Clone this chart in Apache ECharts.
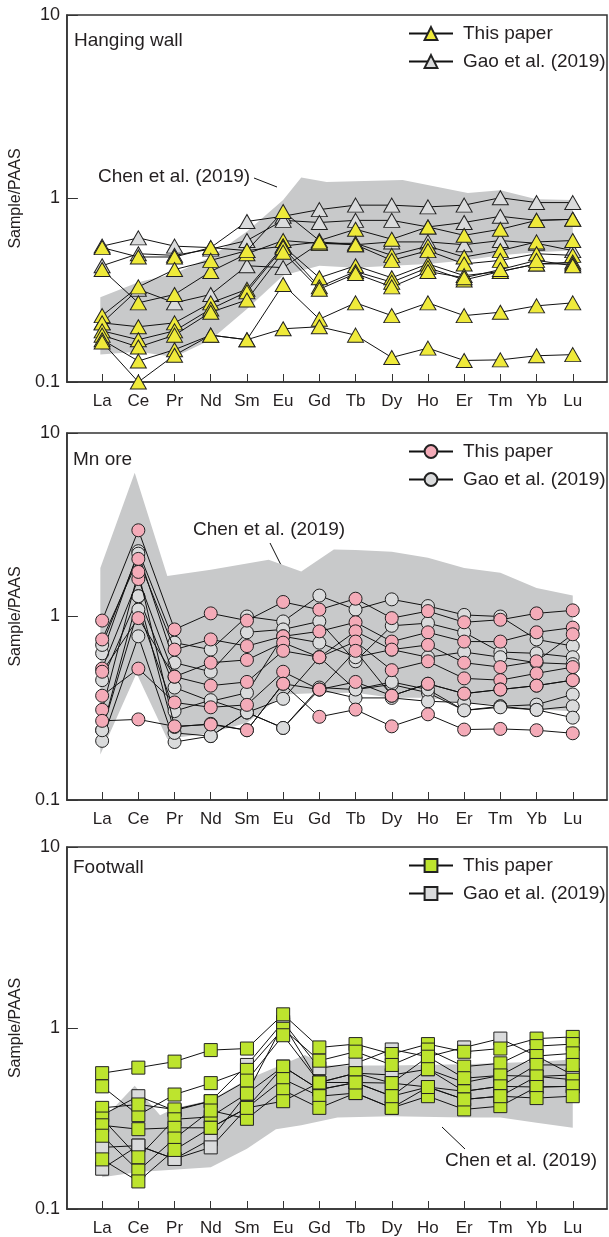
<!DOCTYPE html>
<html>
<head>
<meta charset="utf-8">
<script src="https://cdn.jsdelivr.net/npm/echarts@6.0.0/dist/echarts.min.js"></script>
<style>
  html, body { margin: 0; padding: 0; background: #fff; }
  #chart { width: 609px; height: 1237px; }
</style>
</head>
<body>
<div id="chart"></div>
<script>
// REE categories (x axis)
const ree = ['La', 'Ce', 'Pr', 'Nd', 'Sm', 'Eu', 'Gd', 'Tb', 'Dy', 'Ho', 'Er', 'Tm', 'Yb', 'Lu']

// Hanging wall - Sample/PAAS
const hwThisPaper = [
  [0.54, 0.48, 0.48, 0.54, 0.52, 0.85, 0.59, 0.68, 0.60, 0.70, 0.63, 0.68, 0.76, 0.77],
  [0.41, 0.27, 0.30, 0.40, 0.50, 0.59, 0.57, 0.57, 0.49, 0.55, 0.48, 0.52, 0.58, 0.59],
  [0.23, 0.33, 0.41, 0.46, 0.52, 0.55, 0.58, 0.56, 0.46, 0.52, 0.44, 0.46, 0.50, 0.49],
  [0.21, 0.20, 0.21, 0.27, 0.32, 0.55, 0.37, 0.43, 0.37, 0.44, 0.38, 0.40, 0.44, 0.45],
  [0.19, 0.17, 0.19, 0.25, 0.31, 0.54, 0.33, 0.40, 0.35, 0.42, 0.36, 0.40, 0.44, 0.44],
  [0.18, 0.155, 0.18, 0.24, 0.28, 0.51, 0.32, 0.39, 0.33, 0.40, 0.37, 0.41, 0.46, 0.43],
  [0.17, 0.13, 0.15, 0.18, 0.17, 0.34, 0.22, 0.27, 0.23, 0.27, 0.23, 0.24, 0.26, 0.27],
  [0.165, 0.10, 0.14, 0.18, 0.17, 0.195, 0.20, 0.18, 0.136, 0.153, 0.131, 0.132, 0.139, 0.141]
]
const hwGao = [
  [0.55, 0.61, 0.55, 0.54, 0.75, 0.80, 0.87, 0.92, 0.92, 0.90, 0.92, 1.01, 0.95, 0.95],
  [0.43, 0.50, 0.49, 0.53, 0.59, 0.76, 0.74, 0.76, 0.76, 0.70, 0.74, 0.80, 0.76, 0.77],
  [0.21, 0.32, 0.27, 0.30, 0.43, 0.42, 0.57, 0.56, 0.58, 0.58, 0.56, 0.59, 0.57, 0.52]
]
// Chen et al. (2019) range: [x position, value]
const hwChenUpper = [[-0.05, 0.29], [1, 0.35], [2, 0.39], [3, 0.48], [4, 0.66], [5, 0.98], [5.5, 1.30], [6.2, 1.23], [8.3, 1.26], [10.1, 1.07], [11, 1.11], [12, 0.99], [13, 0.98]]
const hwChenLower = [[13, 0.52], [12, 0.51], [11, 0.49], [10, 0.46], [9, 0.44], [8, 0.43], [7, 0.42], [6, 0.43], [5, 0.38], [4, 0.25], [3, 0.17], [2, 0.137], [1, 0.146], [-0.05, 0.141]]

// Mn ore
const mnThisPaper = [
  [0.95, 2.95, 0.85, 1.04, 0.95, 1.20, 1.09, 1.25, 0.98, 1.07, 0.93, 0.96, 1.04, 1.08],
  [0.75, 2.06, 0.66, 0.75, 0.69, 0.78, 0.83, 0.93, 0.73, 0.82, 0.73, 0.73, 0.82, 0.87],
  [0.52, 1.60, 0.47, 0.56, 0.58, 0.72, 0.60, 0.83, 0.66, 0.70, 0.56, 0.53, 0.57, 0.80],
  [0.50, 0.98, 0.47, 0.42, 0.44, 0.65, 0.60, 0.73, 0.51, 0.57, 0.46, 0.45, 0.49, 0.53],
  [0.37, 0.52, 0.34, 0.32, 0.33, 0.50, 0.40, 0.65, 0.37, 0.43, 0.38, 0.40, 0.42, 0.45],
  [0.31, 1.75, 0.25, 0.26, 0.24, 0.43, 0.40, 0.44, 0.37, 0.43, 0.38, 0.40, 0.42, 0.45],
  [0.27, 0.275, 0.252, 0.258, 0.24, 0.43, 0.284, 0.311, 0.252, 0.293, 0.242, 0.244, 0.24, 0.231]
]
const mnGao = [
  [0.63, 2.27, 0.72, 0.66, 1.00, 0.94, 1.30, 1.09, 1.24, 1.14, 1.02, 1.00, 0.75, 0.69],
  [0.70, 2.20, 0.56, 0.50, 0.82, 0.85, 0.94, 0.57, 0.89, 0.92, 0.82, 0.64, 0.63, 0.60],
  [0.45, 1.29, 0.41, 0.345, 0.384, 0.78, 0.72, 0.60, 0.66, 0.60, 0.64, 0.60, 0.56, 0.55],
  [0.24, 1.09, 0.305, 0.35, 0.30, 0.356, 0.60, 0.40, 0.426, 0.384, 0.308, 0.324, 0.331, 0.376],
  [0.21, 0.78, 0.207, 0.223, 0.30, 0.247, 0.40, 0.36, 0.36, 0.345, 0.34, 0.324, 0.31, 0.324],
  [0.24, 1.29, 0.232, 0.223, 0.30, 0.247, 0.41, 0.40, 0.44, 0.40, 0.308, 0.32, 0.31, 0.281]
]
const mnChenUpper = [[-0.05, 1.84], [0.9, 6.07], [1.8, 1.66], [3, 1.80], [4.6, 2.04], [5.5, 1.76], [6.4, 2.32], [7, 2.30], [8, 2.25], [9, 2.09], [10, 1.84], [11, 1.73], [12, 1.43], [13, 1.30]]
const mnChenLower = [[13, 0.305], [12, 0.311], [11, 0.33], [10, 0.339], [9, 0.361], [8, 0.361], [7, 0.384], [6, 0.383], [5, 0.376], [4, 0.264], [3, 0.232], [1.8, 0.215], [0.95, 0.49], [-0.05, 0.177]]

// Footwall
const fwThisPaper = [
  [0.563, 0.604, 0.652, 0.755, 0.77, 1.19, 0.781, 0.815, 0.718, 0.815, 0.739, 0.77, 0.874, 0.893],
  [0.476, 0.33, 0.429, 0.496, 0.587, 0.99, 0.66, 0.74, 0.625, 0.76, 0.612, 0.638, 0.794, 0.815],
  [0.362, 0.378, 0.355, 0.394, 0.512, 0.912, 0.50, 0.563, 0.496, 0.694, 0.528, 0.547, 0.70, 0.724],
  [0.316, 0.193, 0.313, 0.323, 0.434, 0.612, 0.457, 0.50, 0.42, 0.592, 0.447, 0.476, 0.625, 0.625],
  [0.29, 0.276, 0.281, 0.281, 0.362, 0.522, 0.42, 0.437, 0.362, 0.472, 0.403, 0.42, 0.54, 0.518],
  [0.254, 0.163, 0.245, 0.35, 0.315, 0.453, 0.362, 0.437, 0.362, 0.42, 0.355, 0.37, 0.472, 0.476],
  [0.188, 0.142, 0.212, 0.281, 0.362, 0.394, 0.50, 0.50, 0.42, 0.472, 0.403, 0.42, 0.41, 0.42]
]
const fwGao = [
  [0.33, 0.42, 0.35, 0.394, 0.625, 1.08, 0.60, 0.638, 0.761, 0.694, 0.781, 0.874, 0.70, 0.55],
  [0.219, 0.224, 0.189, 0.243, 0.434, 1.05, 0.50, 0.563, 0.55, 0.592, 0.50, 0.547, 0.54, 0.55],
  [0.167, 0.224, 0.189, 0.219, 0.362, 0.612, 0.457, 0.50, 0.496, 0.472, 0.447, 0.476, 0.472, 0.476]
]
const fwChenUpper = [[0, 0.31], [0.9, 0.48], [1.6, 0.33], [2, 0.36], [3, 0.40], [4, 0.52], [5.6, 0.71], [6.2, 0.62], [8, 0.62], [10, 0.63], [11, 0.64], [12, 0.65], [13, 0.67]]
const fwChenLower = [[13, 0.281], [12, 0.30], [11, 0.32], [10, 0.32], [8, 0.325], [6.5, 0.32], [5.5, 0.29], [4.8, 0.276], [4, 0.215], [3, 0.17], [1, 0.16], [0, 0.15]]

const FONT = '"Liberation Sans", Arial, sans-serif'
const TEXT = '#231f20'

const panels = [
  { key: 'hw', title: 'Hanging wall', top: 15, height: 367, own: hwThisPaper, gao: hwGao, up: hwChenUpper, low: hwChenLower,
    symbol: 'triangle', size: [16, 14], fill: '#efea3a' },
  { key: 'mn', title: 'Mn ore', top: 433, height: 367, own: mnThisPaper, gao: mnGao, up: mnChenUpper, low: mnChenLower,
    symbol: 'circle', size: 13, fill: '#f4abb8' },
  { key: 'fw', title: 'Footwall', top: 847, height: 366, own: fwThisPaper, gao: fwGao, up: fwChenUpper, low: fwChenLower,
    symbol: 'rect', size: 13, fill: '#bde42e' }
]

const idx = ree.map((_, i) => i)

const grids = []
const xAxes = []
const yAxes = []
const legends = []
const series = []

panels.forEach((p, i) => {
  grids.push({ left: 55, right: 2, top: p.top, height: p.height, show: true, borderColor: '#333', borderWidth: 1.5 })

  xAxes.push({
    type: 'value', gridIndex: i, min: -0.973, max: 13.946,
    axisLine: { show: true, onZero: false, lineStyle: { color: '#333', width: 1.5 } },
    axisTick: { show: true, inside: true, length: 8, customValues: idx, lineStyle: { color: '#333' } },
    axisLabel: { customValues: idx, formatter: v => ree[Math.round(v)], fontSize: 17, color: TEXT, fontFamily: FONT, margin: 11 },
    splitLine: { show: false }
  })

  yAxes.push({
    type: 'log', logBase: 10, gridIndex: i, min: 0.1, max: 10,
    name: 'Sample/PAAS', nameLocation: 'middle', nameGap: 34,
    nameTextStyle: { fontSize: 16, color: TEXT, fontFamily: FONT },
    axisLine: { show: true, onZero: false, lineStyle: { color: '#333', width: 1.5 } },
    axisTick: { show: true, inside: true, length: 11, lineStyle: { color: '#333' } },
    axisLabel: { fontSize: 18, color: TEXT, fontFamily: FONT, margin: 7 },
    minorTick: { show: false },
    splitLine: { show: false }
  })

  const ownName = 'This paper|' + p.key
  const gaoName = 'Gao et al. (2019)|' + p.key

  legends.push({
    orient: 'vertical', left: 408, top: p.top + 9, padding: 0, itemWidth: 44, itemHeight: 16, itemGap: 9,
    data: [ownName, gaoName], selectedMode: false,
    formatter: n => n.split('|')[0],
    textStyle: { fontSize: 19, color: TEXT, fontFamily: FONT, padding: [0, 0, 0, 5] }
  })

  // Chen et al. (2019) shaded range
  const poly = p.up.concat(p.low)
  series.push({
    type: 'custom', xAxisIndex: i, yAxisIndex: i, silent: true, z: 1,
    data: poly,
    renderItem: (params, api) => {
      if (params.dataIndex !== 0) return
      return {
        type: 'polygon',
        shape: { points: poly.map(pt => api.coord(pt)) },
        style: { fill: '#c8c9ca' }
      }
    }
  })

  const lineSeries = (name, rows, fill, z) => rows.forEach(row => {
    series.push({
      name, type: 'line', xAxisIndex: i, yAxisIndex: i, z,
      data: row.map((v, k) => [k, v]),
      symbol: p.symbol, symbolSize: p.size, showAllSymbol: true,
      itemStyle: { color: fill, borderColor: '#222', borderWidth: 1 },
      lineStyle: { color: '#111', width: 1 },
      emphasis: { disabled: true }
    })
  })
  lineSeries(gaoName, p.gao, '#dadbdc', 2)
  lineSeries(ownName, p.own, p.fill, 3)
})

const txt = (left, top, text) => ({
  type: 'text', left, top,
  style: { text, fontSize: 19, fill: TEXT, font: '19px ' + FONT }
})
const pointer = (x1, y1, x2, y2) => ({
  type: 'line', shape: { x1, y1, x2, y2 }, style: { stroke: '#111', lineWidth: 1 }
})

const graphics = [
  txt(74, 31, 'Hanging wall'),
  txt(73, 450, 'Mn ore'),
  txt(73, 858, 'Footwall'),
  txt(98, 167, 'Chen et al. (2019)'),
  pointer(254, 178, 277, 187),
  txt(193, 520, 'Chen et al. (2019)'),
  pointer(270, 543, 281, 565),
  txt(445, 1151, 'Chen et al. (2019)'),
  pointer(442, 1127, 465, 1149)
]

const chart = echarts.init(document.getElementById('chart'))
chart.setOption({
  animation: false,
  backgroundColor: '#fff',
  textStyle: { fontFamily: FONT },
  grid: grids,
  xAxis: xAxes,
  yAxis: yAxes,
  legend: legends,
  series,
  graphic: graphics
})
</script>
</body>
</html>
